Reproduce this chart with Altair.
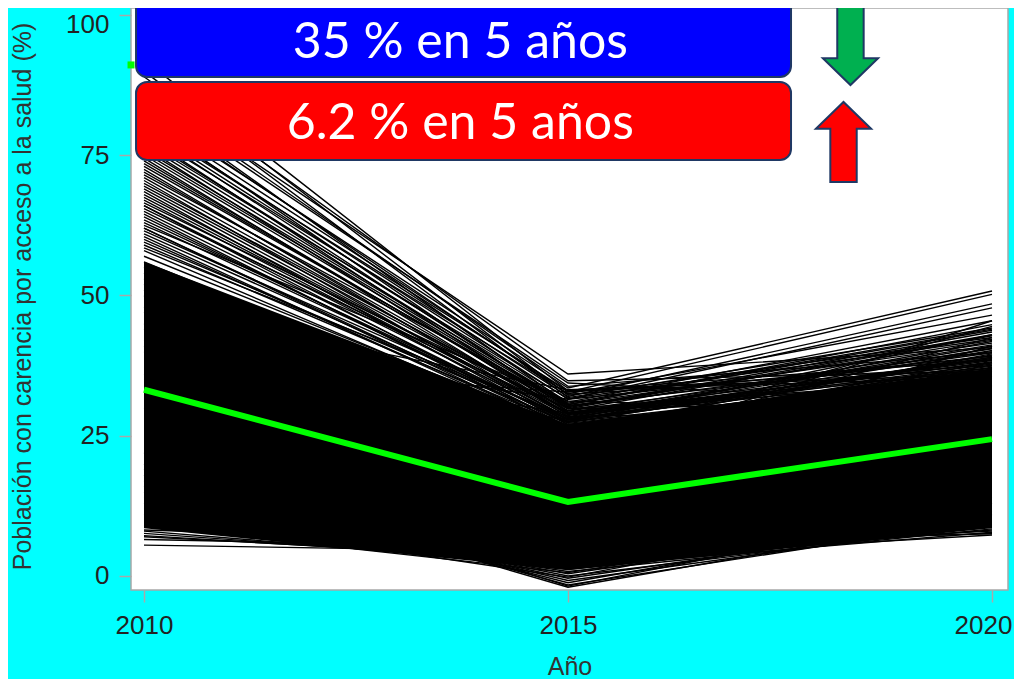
import altair as alt
import pandas as pd

# ---------------- data ----------------
years = [2010, 2015, 2020]

# individual municipal trajectories (% of population)
v2010 = [87, 85, 83, 82, 81, 80, 79, 78, 77, 76, 75, 74, 73, 72, 71, 70, 69, 68, 67, 66,
         65, 64, 63, 62, 61, 60, 59, 58, 57, 56, 55, 54, 53, 52, 51, 50, 45, 40, 35, 30,
         42, 38, 48, 66.5, 62.5, 58.5, 47, 44, 41, 36,
         92, 90, 89, 88, 86, 84.5, 83.5, 81.5, 80.5, 79.5, 78.5, 77.5, 76.5, 75.5, 74.5,
         73.5, 72.5, 71.5, 70.5, 69.5, 68.5, 67.5, 66, 65.5, 64.5, 63.5, 62, 61.5, 60.5, 59.5,
         5.5, 20, 19, 18, 17, 16, 15, 14, 22, 7.0, 6.5, 7.6, 12, 10, 8.2, 7.2, 8.0, 9.0, 11, 13]
v2015 = [36.0, 34.4, 33.5, 32.8, 32.0, 31.5, 32.5, 31.0, 30.5, 30.8, 30.0, 29.5, 30.2, 29.0, 28.8,
         29.4, 28.2, 28.6, 27.8, 28.0, 27.4, 27.0, 27.6, 26.6, 27.2, 26.2, 26.8, 25.8, 26.4, 25.4,
         25.9, 25.0, 24.6, 25.2, 24.2, 23.8, 24.0, 22.5, 21.0, 20.0,
         31.5, 32.8, 33.2, 29.8, 31.2, 28.4, 27.5, 26.0, 29.0, 28.0,
         33.0, 32.2, 34.8, 31.8, 33.8, 30.6, 32.4, 29.8, 33.0, 30.2, 29.2, 31.6, 28.8, 30.4, 28.4,
         29.8, 27.8, 30.6, 27.4, 29.0, 27.0, 28.2, 26.6, 29.2, 26.4, 27.8, 26.0, 28.0, 25.6, 27.4,
         4.3, -2.0, -1.6, -1.2, -0.8, -0.4, 0.0, 0.4, -1.8, 3.0, 5.0, 2.2, 0.8, 1.5, 6.0, 2.6, 1.8, 0.6, -0.2, 1.2]
v2020 = [40.7, 30.5, 50.8, 50.2, 48.5, 47.8, 46.5, 45.5, 44.8, 44.0, 43.5, 42.8, 42.0, 41.2, 40.5,
         39.8, 39.0, 38.4, 37.8, 41.8, 38.8, 36.5, 40.2, 37.2, 35.8, 39.4, 34.6, 38.0, 36.2, 33.8,
         37.6, 35.0, 36.8, 33.2, 34.2, 32.8, 44.5, 42.5, 45.5, 41.0,
         39.2, 37.5, 36.0, 31.2, 29.0, 30.0, 43.0, 39.6, 35.4, 38.2,
         38.5, 42.5, 36.5, 44.2, 39.8, 41.5, 37.0, 43.0, 35.5, 40.0, 38.6, 42.2, 36.8, 39.2, 41.0,
         35.2, 37.4, 43.8, 36.0, 38.0, 34.4, 40.6, 35.6, 37.0, 33.6, 39.0, 35.2, 36.4, 34.0, 38.8,
         8.0, 11.0, 10.0, 12.0, 9.5, 10.5, 9.0, 11.5, 13.0, 7.3, 7.6, 8.2, 8.4, 7.8, 7.5, 9.8, 10.8, 12.5, 14.0, 9.2]

# dense core of the bundle (lower / upper envelope of the solid black region)
band_low = [8.5, 1.0, 8.5]
band_high = [56.0, 27.0, 37.0]

# average trajectory (green)
mean_vals = [33.2, 13.2, 24.4]

box_texts = ["35 % en 5 años", "6.2 % en 5 años"]
box_fills = ["#0000FF", "#FF0000"]
arrow_fills = ["#00B050", "#FF0000"]

# ---------------- tables ----------------
rows = []
for i, trio in enumerate(zip(v2010, v2015, v2020)):
    for yr, v in zip(years, trio):
        rows.append({"id": i, "year": yr, "value": v})
lines_df = pd.DataFrame(rows)
band_df = pd.DataFrame({"year": years, "low": band_low, "high": band_high})
mean_df = pd.DataFrame({"year": years, "value": mean_vals})

# annotation layout (data units)
boxes_df = pd.DataFrame({
    "x1": [2009.906, 2009.906], "x2": [2017.63, 2017.63],
    "y1": [88.95, 74.15], "y2": [104.0, 88.06],
    "fill": box_fills,
})
text_df = pd.DataFrame({"x": [2013.73, 2013.73], "y": [95.0, 80.5], "label": box_texts})
arrow_down_df = pd.DataFrame({"x": [2018.331], "y": [94.65], "fill": [arrow_fills[0]]})
arrow_up_df = pd.DataFrame({"x": [2018.249], "y": [77.36], "fill": [arrow_fills[1]]})
marker_df = pd.DataFrame({"x": [2009.847], "y": [91.1]})

# ---------------- scales ----------------
xs = alt.Scale(domain=[2009.8467, 2020.1887], nice=False, zero=False)
ys = alt.Scale(domain=[-2.5, 101.25], nice=False, zero=False)

LABEL_FONT = "Liberation Sans"

x_axis = alt.Axis(values=years, format="d", title="Año", grid=False, domain=False,
                  tickSize=12, tickColor="#a8a8a8", tickWidth=1.5, labelPadding=10,
                  labelFontSize=26, labelColor="#222222", labelFont=LABEL_FONT,
                  labelOffset={"condition": {"test": "datum.value == 2020", "value": -9}, "value": 0},
                  titleFontSize=25, titleColor="#333333", titleFont=LABEL_FONT,
                  titleFontWeight="normal", titleBaseline="alphabetic", titleY=84)
y_axis = alt.Axis(values=[0, 25, 50, 75, 100], title="Población con carencia por acceso a la salud (%)",
                  grid=False, domain=False, tickSize=12, tickColor="#a8a8a8", tickWidth=1.5,
                  labelPadding=10, labelFontSize=26, labelColor="#222222", labelFont=LABEL_FONT,
                  labelOffset={"condition": {"test": "datum.value == 100", "value": 9}, "value": 0},
                  titleFontSize=25, titleColor="#333333", titleFont=LABEL_FONT,
                  titleFontWeight="normal", titleX=-109, titleY=288, titleBaseline="middle",
                  titleAlign="center")

band = alt.Chart(band_df).mark_area(color="black", opacity=1).encode(
    x=alt.X("year:Q", scale=xs, axis=x_axis),
    y=alt.Y("low:Q", scale=ys, axis=y_axis),
    y2="high:Q",
)

lines = alt.Chart(lines_df).mark_line(color="black", strokeWidth=1.4).encode(
    x=alt.X("year:Q", scale=xs),
    y=alt.Y("value:Q", scale=ys),
    detail="id:N",
    order="year:Q",
)

mean_line = alt.Chart(mean_df).mark_line(color="#00FF00", strokeWidth=6).encode(
    x=alt.X("year:Q", scale=xs),
    y=alt.Y("value:Q", scale=ys),
)

marker = alt.Chart(marker_df).mark_square(color="#00FF00", size=49, opacity=1, filled=True).encode(
    x=alt.X("x:Q", scale=xs), y=alt.Y("y:Q", scale=ys)
)

boxes = alt.Chart(boxes_df).mark_rect(cornerRadius=11, stroke="#1F3864", strokeWidth=2).encode(
    x=alt.X("x1:Q", scale=xs), x2="x2:Q",
    y=alt.Y("y1:Q", scale=ys), y2="y2:Q",
    fill=alt.Fill("fill:N", scale=None),
)

texts = alt.Chart(text_df).mark_text(color="white", font="Lato", fontSize=50,
                                     baseline="middle", align="center").encode(
    x=alt.X("x:Q", scale=xs), y=alt.Y("y:Q", scale=ys), text="label:N"
)

down_path = "M -0.33 -1 L 0.33 -1 L 0.33 0.33 L 0.69 0.33 L 0 1 L -0.69 0.33 L -0.33 0.33 Z"
up_path = "M -0.33 1 L 0.33 1 L 0.33 -0.33 L 0.69 -0.33 L 0 -1 L -0.69 -0.33 L -0.33 -0.33 Z"

arrow_down = alt.Chart(arrow_down_df).mark_point(shape=down_path, size=6400, filled=True, opacity=1,
                                                  stroke="#1F3864", strokeWidth=2).encode(
    x=alt.X("x:Q", scale=xs), y=alt.Y("y:Q", scale=ys), fill=alt.Fill("fill:N", scale=None)
)
arrow_up = alt.Chart(arrow_up_df).mark_point(shape=up_path, size=6400, filled=True, opacity=1,
                                              stroke="#1F3864", strokeWidth=2).encode(
    x=alt.X("x:Q", scale=xs), y=alt.Y("y:Q", scale=ys), fill=alt.Fill("fill:N", scale=None)
)

chart = alt.layer(band, lines, mean_line, marker, boxes, texts, arrow_down, arrow_up).properties(
    width=877, height=582,
    padding={"left": 123, "top": 0, "right": 6, "bottom": 89},
    autosize=alt.AutoSizeParams(type="none"),
).configure(background="#00FFFF").configure_view(
    fill="white", stroke="#a8a8a8", strokeWidth=1.5
)

chart.save("out.html", embed_options={"renderer": "svg", "actions": False})
